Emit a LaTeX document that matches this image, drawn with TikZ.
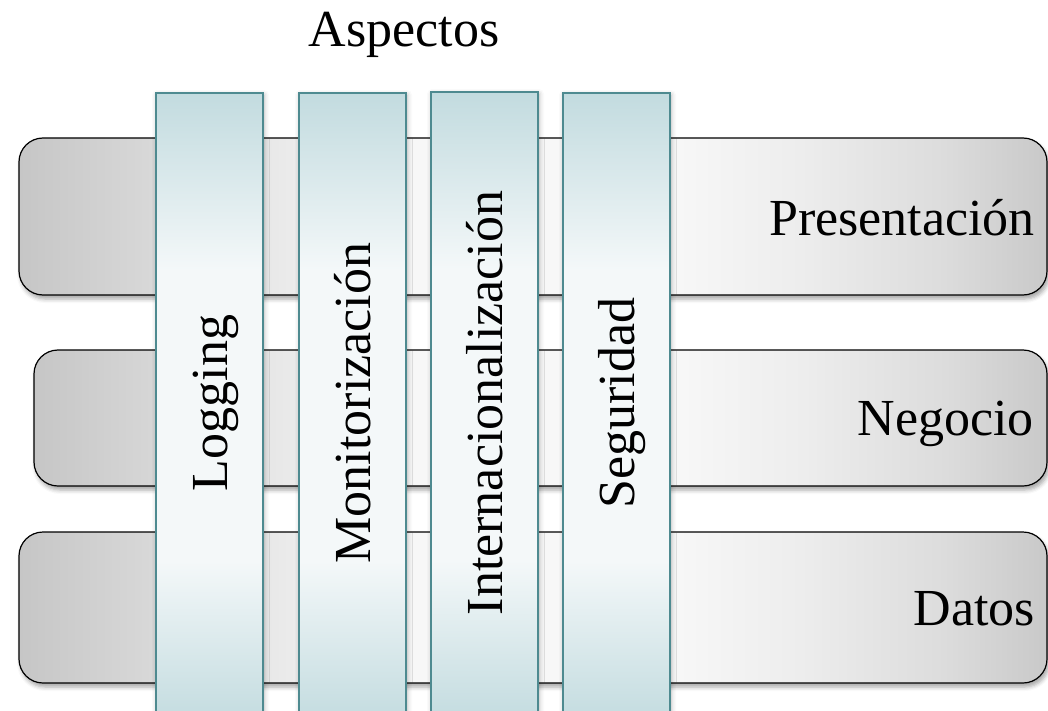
\documentclass[tikz,border=0pt]{standalone}
\usepackage{fontspec}
\setmainfont{Liberation Serif}
\usetikzlibrary{shadows.blur}
\definecolor{layA}{HTML}{C6C6C6}
\definecolor{layB}{HTML}{D8D8D8}
\definecolor{layC}{HTML}{ECECEC}
\definecolor{laywhite}{HTML}{F7F7F7}
\definecolor{layD}{HTML}{EDEDED}
\definecolor{layE}{HTML}{DCDCDC}
\definecolor{layF}{HTML}{C9C9C9}
\definecolor{colblue}{HTML}{C2DBDF}
\definecolor{colwhite}{HTML}{F4F8F9}
\definecolor{colborder}{HTML}{4E8A90}
% the path's bounding box covers 25bp..75bp of a shading
\pgfdeclarehorizontalshading{layshade}{100bp}{color(0bp)=(layA); color(25bp)=(layA); color(31.5bp)=(layB); color(38.5bp)=(layC); color(44bp)=(laywhite); color(57bp)=(laywhite); color(63bp)=(layD); color(70bp)=(layE); color(75bp)=(layF); color(100bp)=(layF)}
\pgfdeclareverticalshading{colshade}{100bp}{color(0bp)=(colblue); color(25bp)=(colblue); color(38bp)=(colwhite); color(61bp)=(colwhite); color(75bp)=(colblue); color(100bp)=(colblue)}
\tikzset{
  layer/.style={draw=black, line width=1.2pt, rounded corners=24pt, shading=layshade,
    blur shadow={shadow xshift=2pt, shadow yshift=-4pt, shadow blur radius=4pt, shadow opacity=35},
    inner sep=0pt},
  aspect/.style={draw=colborder, line width=1.5pt, shading=colshade,
    blur shadow={shadow xshift=1pt, shadow yshift=-2pt, shadow blur radius=5pt, shadow opacity=30},
    inner sep=0pt, minimum width=107pt, minimum height=632pt},
  lbl/.style={font=\fontsize{52}{60}\selectfont, inner sep=0pt},
  vlbl/.style={lbl, rotate=90, anchor=base}
}
\begin{document}
\begin{tikzpicture}[x=1pt, y=-1pt]
\useasboundingbox (0,0) rectangle (1048,711);
\clip (0,0) rectangle (1048,711);
% layers
\node[layer, minimum width=1028pt, minimum height=157pt] (pres) at (533,216.5) {};
\node[layer, minimum width=1013pt, minimum height=136pt] (neg) at (540.5,418) {};
\node[layer, minimum width=1028pt, minimum height=151pt] (dat) at (533,607.5) {};
\node[lbl, anchor=base east] (tpres) at (1035,235) {Presentación};
\node[lbl, anchor=base east] (tneg) at (1034,435) {Negocio};
\node[lbl, anchor=base east] (tdat) at (1035,625) {Datos};
% aspects
\node[aspect] (c1) at (209.5,409) {};
\node[aspect] (c2) at (352.5,409) {};
\node[aspect] (c3) at (484.5,408) {};
\node[aspect] (c4) at (616.5,409) {};
\node[vlbl] (t1) at (227,403) {Logging};
\node[vlbl] (t2) at (370,403) {Monitorización};
\node[vlbl] (t3) at (502,403) {Internacionalización};
\node[vlbl] (t4) at (634,403) {Seguridad};
\node[lbl, anchor=base] (asp) at (404,47) {Aspectos};
\end{tikzpicture}
\end{document}
